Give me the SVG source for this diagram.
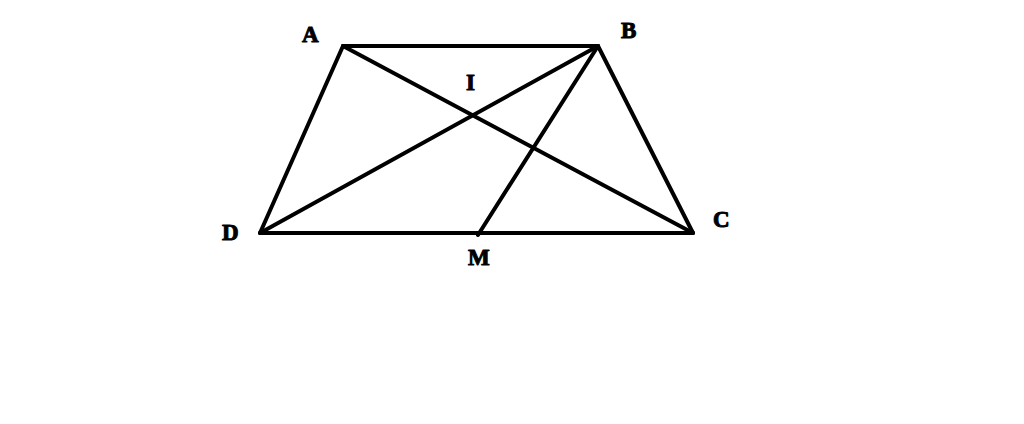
<svg xmlns="http://www.w3.org/2000/svg" width="1024" height="424" viewBox="0 0 1024 424">
<style>
.seg{stroke:#000;stroke-width:4;stroke-linecap:round;fill:none}
.lbl{font-family:"Liberation Serif","Times New Roman",serif;font-weight:bold;font-size:23px;fill:#000;stroke:#000;stroke-width:1;stroke-linejoin:round}
</style>
<rect width="1024" height="424" fill="#fff"/>
<g id="connectors">
<line class="seg" x1="343" y1="46" x2="598" y2="46"/>
<line class="seg" x1="598" y1="46" x2="693" y2="233"/>
<line class="seg" x1="693" y1="233" x2="260" y2="233"/>
<line class="seg" x1="260" y1="233" x2="343" y2="46"/>
<line class="seg" x1="343" y1="46" x2="693" y2="233"/>
<line class="seg" x1="598" y1="46" x2="260" y2="233"/>
<line class="seg" x1="598" y1="46" x2="478" y2="235"/>
</g>
<g id="A"><text class="lbl" x="302" y="42">A</text></g>
<g id="B"><text class="lbl" x="621" y="38">B</text></g>
<g id="C"><text class="lbl" x="713" y="227">C</text></g>
<g id="D"><text class="lbl" x="222" y="240">D</text></g>
<g id="I"><text class="lbl" x="466" y="90">I</text></g>
<g id="M"><text class="lbl" x="468" y="265">M</text></g>
</svg>
